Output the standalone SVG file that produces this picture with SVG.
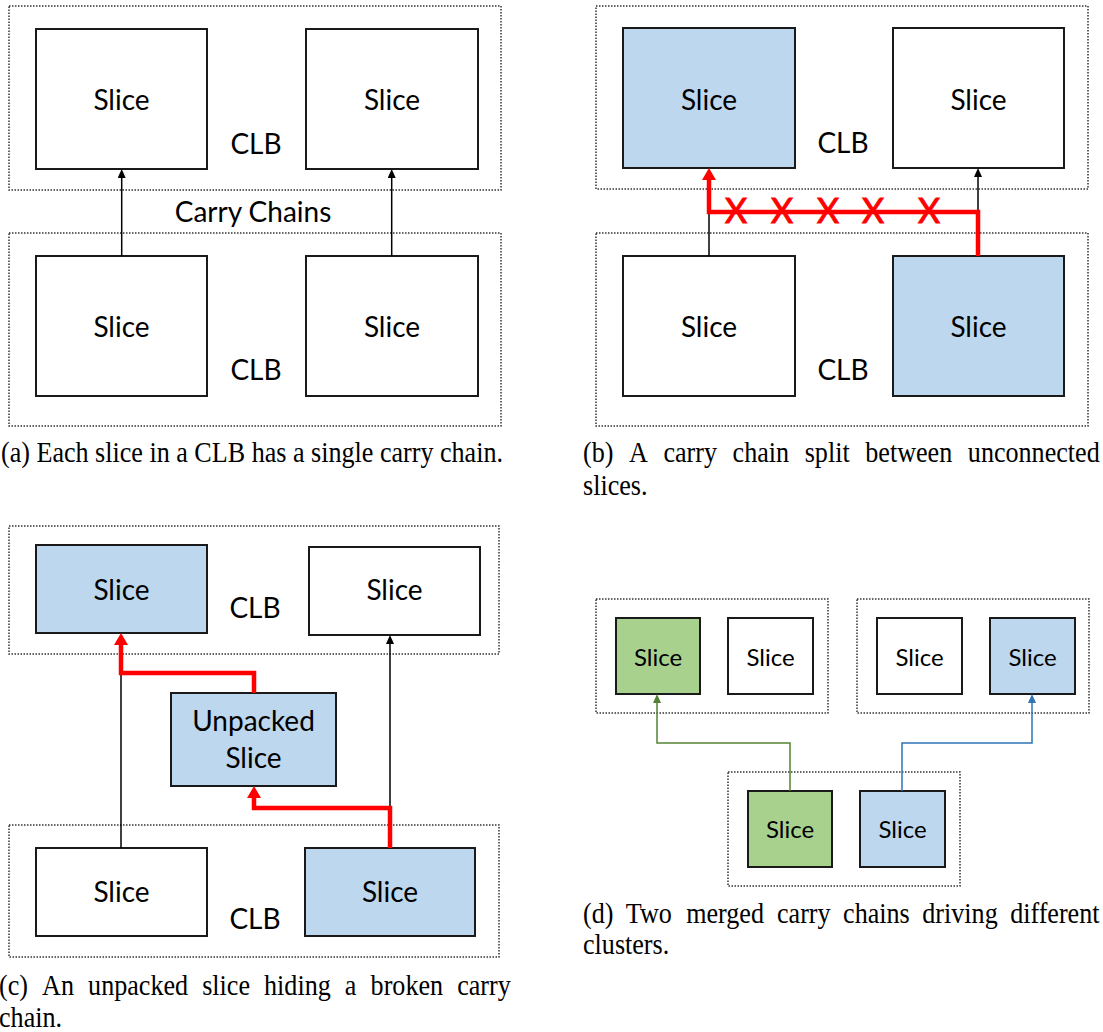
<svg xmlns="http://www.w3.org/2000/svg" width="1103" height="1032" viewBox="0 0 1103 1032">
  <style>
    .clb { fill: none; stroke: #333; stroke-width: 1.5; stroke-dasharray: 1.5 1.5; }
    .slice { fill: #fff; stroke: #1a1a1a; stroke-width: 2; }
    .blue { fill: #bdd7ee; }
    .green { fill: #a9d18e; }
    .lbl { font-family: Lato, "Open Sans", sans-serif; font-size: 28px; fill: #000; text-anchor: middle; }
    .sm { font-size: 24px; }
    .x { font-family: Lato, "Open Sans", sans-serif; font-size: 34px; fill: #ff0000; stroke: #ff0000; stroke-width: 1; text-anchor: middle; }
    .wire { fill: none; stroke: #000; stroke-width: 1.5; }
    .red { fill: none; stroke: #ff0000; stroke-width: 4.5; }
    .gw { fill: none; stroke: #548235; stroke-width: 1.5; }
    .bw { fill: none; stroke: #2e75b6; stroke-width: 1.5; }
    .cap { font-family: "Liberation Serif", "Times New Roman", serif; font-size: 29px; fill: #000; }
  </style>
  <defs>
    <marker id="ah" markerWidth="9" markerHeight="8" refX="2" refY="4" orient="auto" markerUnits="userSpaceOnUse">
      <path d="M0,0 L9,4 L0,8 z" fill="#000"/>
    </marker>
    <marker id="ahRed" markerWidth="12" markerHeight="14" refX="2" refY="7" orient="auto" markerUnits="userSpaceOnUse">
      <path d="M0,0 L12,7 L0,14 z" fill="#ff0000"/>
    </marker>
    <marker id="ahGreen" markerWidth="9" markerHeight="8" refX="2" refY="4" orient="auto" markerUnits="userSpaceOnUse">
      <path d="M0,0 L9,4 L0,8 z" fill="#548235"/>
    </marker>
    <marker id="ahBlue" markerWidth="9" markerHeight="8" refX="2" refY="4" orient="auto" markerUnits="userSpaceOnUse">
      <path d="M0,0 L9,4 L0,8 z" fill="#2e75b6"/>
    </marker>
  </defs>

  <!-- (a) two CLBs, one carry chain per slice -->
  <g id="a-clb-top"><rect class="clb" x="9" y="6" width="492" height="184"/><text class="lbl" x="256" y="154">CLB</text></g>
  <g id="a-slice-tl"><rect class="slice" x="36" y="29" width="171" height="140"/><text class="lbl" x="121.5" y="110">Slice</text></g>
  <g id="a-slice-tr"><rect class="slice" x="306" y="29" width="172" height="140"/><text class="lbl" x="392" y="110">Slice</text></g>
  <g id="a-clb-bot"><rect class="clb" x="9" y="233" width="492" height="193"/><text class="lbl" x="256" y="380">CLB</text></g>
  <g id="a-slice-bl"><rect class="slice" x="36" y="256" width="171" height="140"/><text class="lbl" x="121.5" y="337">Slice</text></g>
  <g id="a-slice-br"><rect class="slice" x="306" y="256" width="172" height="140"/><text class="lbl" x="392" y="337">Slice</text></g>
  <text class="lbl" x="253" y="222">Carry Chains</text>

  <!-- (b) chain split between unconnected slices -->
  <g id="b-clb-top"><rect class="clb" x="596" y="6" width="492" height="183"/><text class="lbl" x="843" y="153">CLB</text></g>
  <g id="b-slice-tl"><rect class="slice blue" x="623" y="28" width="172" height="140"/><text class="lbl" x="709" y="110">Slice</text></g>
  <g id="b-slice-tr"><rect class="slice" x="893" y="28" width="171" height="140"/><text class="lbl" x="978.5" y="110">Slice</text></g>
  <g id="b-clb-bot"><rect class="clb" x="596" y="233" width="492" height="193"/><text class="lbl" x="843" y="380">CLB</text></g>
  <g id="b-slice-bl"><rect class="slice" x="623" y="256" width="172" height="140"/><text class="lbl" x="709" y="337">Slice</text></g>
  <g id="b-slice-br"><rect class="slice blue" x="893" y="256" width="171" height="140"/><text class="lbl" x="978.5" y="337">Slice</text></g>

  <!-- (c) unpacked slice hiding a broken chain -->
  <g id="c-clb-top"><rect class="clb" x="9" y="526" width="490" height="128"/><text class="lbl" x="255" y="618">CLB</text></g>
  <g id="c-slice-tl"><rect class="slice blue" x="36" y="545" width="171" height="88"/><text class="lbl" x="121.5" y="600">Slice</text></g>
  <g id="c-slice-tr"><rect class="slice" x="309" y="547" width="171" height="88"/><text class="lbl" x="394.5" y="600">Slice</text></g>
  <g id="c-unpacked"><rect class="slice blue" x="171" y="693" width="165" height="93"/><text class="lbl" x="253.5" y="731">Unpacked</text><text class="lbl" x="253.5" y="768">Slice</text></g>
  <g id="c-clb-bot"><rect class="clb" x="9" y="825" width="490" height="132"/><text class="lbl" x="255" y="929">CLB</text></g>
  <g id="c-slice-bl"><rect class="slice" x="36" y="848" width="171" height="88"/><text class="lbl" x="121.5" y="902">Slice</text></g>
  <g id="c-slice-br"><rect class="slice blue" x="305" y="848" width="170" height="88"/><text class="lbl" x="390" y="902">Slice</text></g>

  <!-- (d) merged chains driving different clusters -->
  <g id="d-cluster-tl"><rect class="clb" x="596" y="599" width="232" height="114"/></g>
  <g id="d-slice-1"><rect class="slice green" x="616" y="618" width="84" height="76"/><text class="lbl sm" x="658" y="666">Slice</text></g>
  <g id="d-slice-2"><rect class="slice" x="728" y="618" width="85" height="76"/><text class="lbl sm" x="770.5" y="666">Slice</text></g>
  <g id="d-cluster-tr"><rect class="clb" x="857" y="599" width="232" height="114"/></g>
  <g id="d-slice-3"><rect class="slice" x="877" y="618" width="85" height="76"/><text class="lbl sm" x="919.5" y="666">Slice</text></g>
  <g id="d-slice-4"><rect class="slice blue" x="990" y="618" width="85" height="76"/><text class="lbl sm" x="1032.5" y="666">Slice</text></g>
  <g id="d-cluster-bot"><rect class="clb" x="728" y="772" width="232" height="114"/></g>
  <g id="d-slice-5"><rect class="slice green" x="748" y="791" width="84" height="76"/><text class="lbl sm" x="790" y="838">Slice</text></g>
  <g id="d-slice-6"><rect class="slice blue" x="860" y="791" width="85" height="76"/><text class="lbl sm" x="902.5" y="838">Slice</text></g>

  <g id="connectors">
    <!-- (a) -->
    <path class="wire" d="M121.7,256 V176" marker-end="url(#ah)"/>
    <path class="wire" d="M391.7,256 V176" marker-end="url(#ah)"/>
    <!-- (b) -->
    <path class="wire" d="M709,256 V212"/>
    <path class="wire" d="M978,212 V175" marker-end="url(#ah)"/>
    <path class="red" d="M978,256 V212 H709 V178" marker-end="url(#ahRed)"/>
    <text class="x" x="736" y="223">X</text>
    <text class="x" x="782" y="223">X</text>
    <text class="x" x="828" y="223">X</text>
    <text class="x" x="873" y="223">X</text>
    <text class="x" x="929" y="223">X</text>
    <!-- (c) -->
    <path class="wire" d="M121,848 V673"/>
    <path class="wire" d="M390,808 V642" marker-end="url(#ah)"/>
    <path class="red" d="M254,693 V673 H121 V643" marker-end="url(#ahRed)"/>
    <path class="red" d="M390,848 V808 H254 V796" marker-end="url(#ahRed)"/>
    <!-- (d) -->
    <path class="gw" d="M790,791 V743 H657 V701" marker-end="url(#ahGreen)"/>
    <path class="bw" d="M902,791 V743 H1032 V701" marker-end="url(#ahBlue)"/>
  </g>

  <!-- sub-figure captions: narrow serif, justified word by word -->
  <g transform="scale(0.9,1)">
    <text class="cap" x="1.1" y="462">(a) Each slice in a CLB has a single carry chain.</text>
    <text class="cap" y="462"><tspan x="647.8">(b)</tspan><tspan x="698.9">A</tspan><tspan x="737.1">carry</tspan><tspan x="814.0">chain</tspan><tspan x="894.1">split</tspan><tspan x="961.4">between</tspan><tspan x="1075.4">unconnected</tspan></text>
    <text class="cap" x="647.8" y="495">slices.</text>
    <text class="cap" y="995"><tspan x="-1.1">(c)</tspan><tspan x="46.8">An</tspan><tspan x="97.9">unpacked</tspan><tspan x="224.7">slice</tspan><tspan x="293.4">hiding</tspan><tspan x="383.2">a</tspan><tspan x="411.8">broken</tspan><tspan x="508.0">carry</tspan></text>
    <text class="cap" x="-1.1" y="1027">chain.</text>
    <text class="cap" y="923"><tspan x="647.8">(d)</tspan><tspan x="695.4">Two</tspan><tspan x="762.4">merged</tspan><tspan x="863.3">carry</tspan><tspan x="936.8">chains</tspan><tspan x="1024.8">driving</tspan><tspan x="1122.4">different</tspan></text>
    <text class="cap" x="647.8" y="954">clusters.</text>
  </g>
</svg>
